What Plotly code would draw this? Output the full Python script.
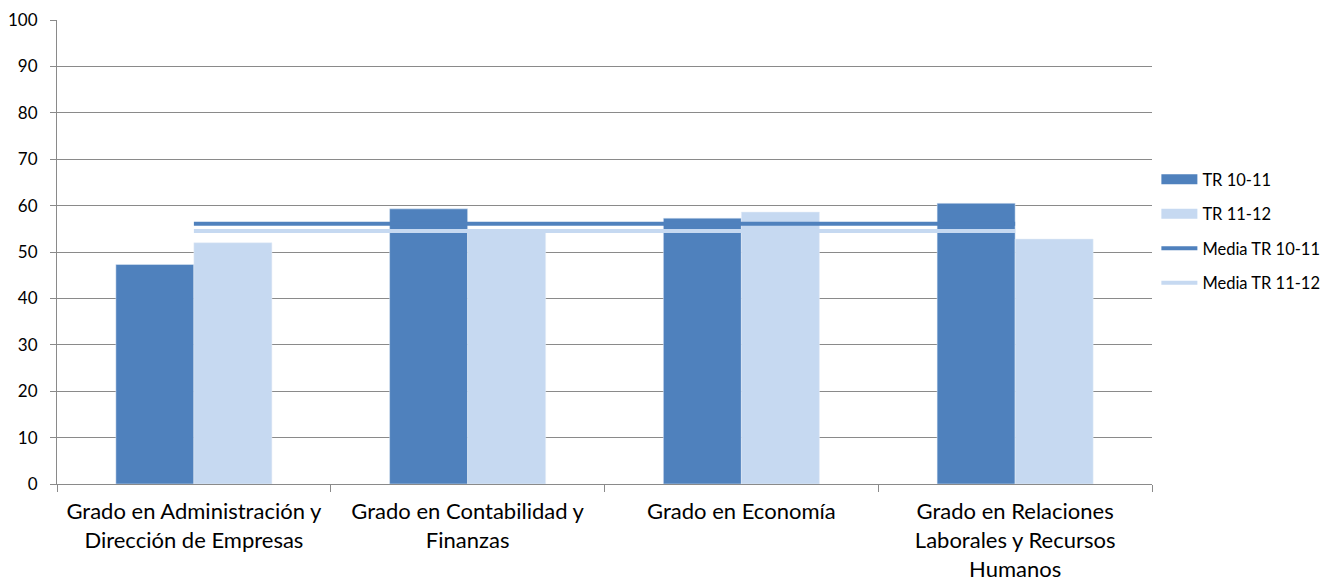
import plotly.graph_objects as go

# Grados y valores
grados = [
    "Grado en Administración y Dirección de Empresas",
    "Grado en Contabilidad y Finanzas",
    "Grado en Economía",
    "Grado en Relaciones Laborales y Recursos Humanos",
]
etiquetas = [
    "Grado en Administración y<br>Dirección de Empresas",
    "Grado en Contabilidad y<br>Finanzas",
    "Grado en Economía",
    "Grado en Relaciones<br>Laborales y Recursos<br>Humanos",
]
tr_10_11 = [47.3, 59.3, 57.3, 60.5]
tr_11_12 = [52.0, 54.6, 58.6, 52.8]
media_10_11 = [56.1, 56.1, 56.1, 56.1]
media_11_12 = [54.5, 54.5, 54.5, 54.5]

azul = "#4F81BD"
azul_claro = "#C6D9F1"
gris = "#8A8A8A"

fig = go.Figure()
# barras (la leyenda se dibuja con trazas auxiliares para tener rectangulos anchos)
fig.add_trace(go.Bar(x=grados, y=tr_10_11, name="TR 10-11", marker_color=azul,
                     legendgroup="a", showlegend=False))
fig.add_trace(go.Bar(x=grados, y=tr_11_12, name="TR 11-12", marker_color=azul_claro,
                     legendgroup="b", showlegend=False))
fig.add_trace(go.Scatter(x=[None], y=[None], name="TR 10-11", mode="lines",
                         line=dict(color=azul, width=12), legendgroup="a"))
fig.add_trace(go.Scatter(x=[None], y=[None], name="TR 11-12", mode="lines",
                         line=dict(color=azul_claro, width=12), legendgroup="b"))
# medias
fig.add_trace(go.Scatter(x=grados, y=media_10_11, name="Media TR 10-11", mode="lines",
                         line=dict(color=azul, width=4), legendgroup="c"))
fig.add_trace(go.Scatter(x=grados, y=media_11_12, name="Media TR 11-12", mode="lines",
                         line=dict(color=azul_claro, width=4), legendgroup="d"))

fig.update_layout(
    width=1338, height=580,
    margin=dict(l=49, r=194, t=12, b=104, autoexpand=False),
    plot_bgcolor="white", paper_bgcolor="white",
    font=dict(family="Lato, Noto Sans, sans-serif", size=16, color="black"),
    barmode="group", bargap=0.43, bargroupgap=0,
    legend=dict(x=1.004, y=0.545, xanchor="left", yanchor="middle",
                traceorder="grouped", tracegroupgap=10, itemwidth=36,
                font=dict(size=16.5)),
    xaxis=dict(
        tickmode="array", tickvals=grados, ticktext=etiquetas,
        tickson="boundaries", ticks="outside", ticklen=7, tickcolor=gris,
        showline=True, linecolor=gris, linewidth=1,
        showgrid=False, tickfont=dict(size=22), automargin=False,
        ticklabelstandoff=8,
    ),
    yaxis=dict(
        range=[0, 100], dtick=10, ticks="outside", ticklen=6, tickcolor=gris,
        showline=True, linecolor=gris, linewidth=1,
        showgrid=True, gridcolor=gris, gridwidth=1,
        tickfont=dict(size=17), zeroline=False, automargin=False,
        ticklabelstandoff=9,
    ),
)

fig.write_html("out.html")
